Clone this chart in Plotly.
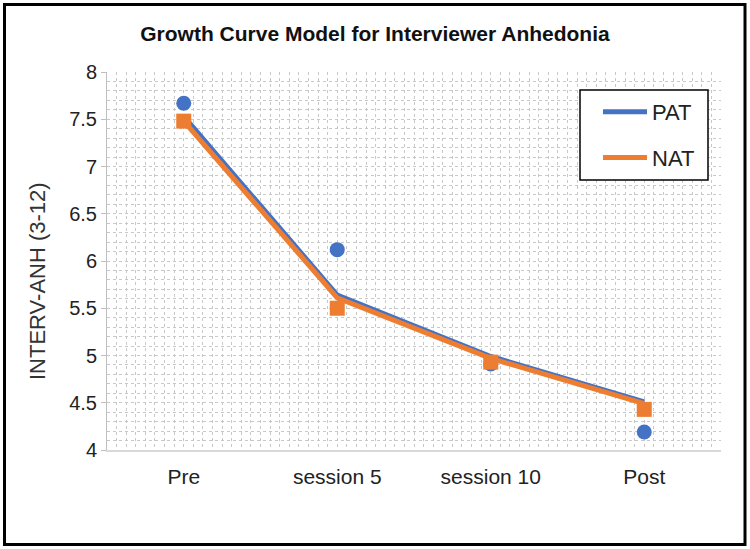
import plotly.graph_objects as go

categories = ["Pre", "session 5", "session 10", "Post"]
pat_model = [7.53, 5.64, 4.99, 4.51]
nat_model = [7.48, 5.61, 4.97, 4.49]
pat_obs = [7.67, 6.12, 4.91, 4.19]
nat_obs = [7.48, 5.50, 4.93, 4.43]

BLUE = "#4472C4"
ORANGE = "#ED7D31"
FONT = "Liberation Sans, Arial, sans-serif"

xpos = list(range(len(categories)))

fig = go.Figure()
fig.add_trace(go.Scatter(x=xpos, y=pat_model, mode="lines", name="PAT",
                         line=dict(color=BLUE, width=5), legendgroup="a"))
fig.add_trace(go.Scatter(x=xpos, y=pat_obs, mode="markers", showlegend=False,
                         legendgroup="a",
                         marker=dict(color=BLUE, size=15, symbol="circle")))
fig.add_trace(go.Scatter(x=xpos, y=nat_model, mode="lines", name="NAT",
                         line=dict(color=ORANGE, width=5), legendgroup="b"))
fig.add_trace(go.Scatter(x=xpos, y=nat_obs, mode="markers", showlegend=False,
                         legendgroup="b",
                         marker=dict(color=ORANGE, size=15, symbol="square")))

L, R, T, B = 107, 29, 72, 99
W, H = 750, 549
pw, ph = W - L - R, H - T - B

def px_x(p):
    return (p - L) / pw

def px_y(p):
    return (H - B - p) / ph

grid = "#c8c8c8"
fig.update_layout(
    width=W, height=H,
    margin=dict(l=L, r=R, t=T, b=B),
    paper_bgcolor="white", plot_bgcolor="white",
    font=dict(family=FONT, color="#222222"),
    title=dict(text="<b>Growth Curve Model for Interviewer Anhedonia</b>",
               x=0.5, xanchor="center", y=1 - 34 / H, yanchor="middle",
               font=dict(size=21, color="#111111", family=FONT)),
    xaxis=dict(range=[-0.5, 3.5], tickvals=xpos, ticktext=categories,
               showgrid=True, gridcolor=grid, griddash="dot", gridwidth=1,
               minor=dict(dtick=1 / 16, tick0=-0.5, showgrid=True, gridcolor=grid,
                          griddash="dot", gridwidth=1),
               showline=True, linecolor="#d9d9d9", linewidth=1.5,
               ticks="", zeroline=False, fixedrange=True,
               tickfont=dict(size=21, color="#222222"), ticklabelstandoff=7),
    yaxis=dict(range=[4, 8], dtick=0.5, tick0=4,
               showgrid=True, gridcolor=grid, griddash="dot", gridwidth=1,
               minor=dict(dtick=0.1, showgrid=True, gridcolor=grid,
                          griddash="dot", gridwidth=1),
               showline=True, linecolor="#bfbfbf", linewidth=1,
               ticks="outside", ticklen=5, tickcolor="#bfbfbf",
               zeroline=False, fixedrange=True,
               tickfont=dict(size=20, color="#222222")),
    annotations=[
        dict(text="INTERV-ANH (3-12)", textangle=-90, showarrow=False,
             xref="paper", yref="paper", x=px_x(37), y=px_y(281),
             xanchor="center", yanchor="middle",
             font=dict(size=22, color="#333333", family=FONT)),
    ],
    showlegend=True,
    legend=dict(x=px_x(598), y=px_y(91), xanchor="left", yanchor="top",
                bgcolor="rgba(0,0,0,0)", borderwidth=0,
                font=dict(size=22, color="#222222", family=FONT),
                tracegroupgap=14, itemwidth=44, traceorder="grouped"),
    shapes=[
        dict(type="rect", xref="paper", yref="paper",
             x0=px_x(580), x1=px_x(708), y0=px_y(180), y1=px_y(90),
             line=dict(color="black", width=1.5), fillcolor="white", layer="above"),
        dict(type="rect", xref="paper", yref="paper",
             x0=px_x(4.5), x1=px_x(745), y0=px_y(544.5), y1=px_y(4.5),
             line=dict(color="black", width=3), fillcolor="rgba(0,0,0,0)", layer="above"),
    ],
)

fig.write_html("out.html", config={"displayModeBar": False},
               post_script="document.body.style.margin='0';document.body.style.padding='0';")
